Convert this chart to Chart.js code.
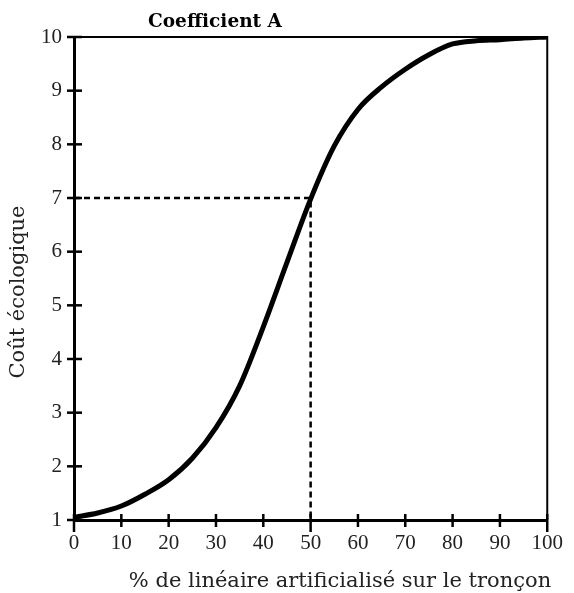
<!DOCTYPE html>
<html>
<head>
<meta charset="utf-8">
<script src="https://cdn.jsdelivr.net/npm/chart.js@4/dist/chart.umd.min.js"></script>
<style>
  body { margin: 0; background: #fff; }
  #wrap { width: 574px; height: 593px; }
</style>
</head>
<body>
<div id="wrap"><canvas id="coefChart" width="574" height="593"></canvas></div>
<script>
// valeurs
const pctLineaire = [0, 5, 10, 15, 20, 25, 30, 35, 40, 45, 50, 55, 60, 65, 70, 75, 80, 85, 90, 95, 100];
const coutEco = [1.05, 1.13, 1.26, 1.48, 1.75, 2.15, 2.72, 3.5, 4.6, 5.8, 6.98, 7.97, 8.65, 9.07, 9.4, 9.67, 9.87, 9.93, 9.95, 9.98, 10];
const repereX = [0, 50, 50];
const repereY = [7, 7, 1];
const xTicks = [0, 10, 20, 30, 40, 50, 60, 70, 80, 90, 100];
const yTicks = [1, 2, 3, 4, 5, 6, 7, 8, 9, 10];

const police = '"Liberation Serif", "DejaVu Serif", serif';
const policeTitre = '"DejaVu Serif", serif';

// cadre, graduations croisées et titres
const decor = {
    id: 'decor',
    afterDraw(chart) {
        const ctx = chart.ctx;
        const a = chart.chartArea;
        const sx = chart.scales.x, sy = chart.scales.y;
        ctx.save();
        ctx.strokeStyle = '#000';
        ctx.lineWidth = 2;
        ctx.beginPath();
        ctx.moveTo(a.left, a.top);
        ctx.lineTo(a.right, a.top);
        ctx.lineTo(a.right, a.bottom);
        ctx.stroke();

        ctx.lineWidth = 2.5;
        xTicks.forEach(function(v) {
            const px = sx.getPixelForValue(v);
            const bas = (v % 50 === 0) ? 12 : 7;
            ctx.beginPath();
            ctx.moveTo(px, a.bottom - 6);
            ctx.lineTo(px, a.bottom + bas);
            ctx.stroke();
        });
        yTicks.forEach(function(v) {
            const py = sy.getPixelForValue(v);
            ctx.beginPath();
            ctx.moveTo(a.left - 7, py);
            ctx.lineTo(a.left + 8, py);
            ctx.stroke();
        });

        ctx.fillStyle = '#000';
        ctx.textAlign = 'center';
        ctx.textBaseline = 'alphabetic';
        ctx.font = 'bold 18.5px ' + policeTitre;
        ctx.fillText('Coefficient A', 215, 27);

        ctx.fillStyle = '#222';
        ctx.font = '21px ' + policeTitre;
        ctx.fillText('% de linéaire artificialisé sur le tronçon', 340, 587);

        ctx.translate(24, 292);
        ctx.rotate(-Math.PI / 2);
        ctx.fillText('Coût écologique', 0, 0);
        ctx.restore();
    }
};

const ctx = document.getElementById('coefChart').getContext('2d');
const chart = new Chart(ctx, {
    type: 'line',
    data: {
        datasets: [{
            label: 'Coût',
            data: pctLineaire.map(function(x, i) { return { x: x, y: coutEco[i] }; }),
            borderColor: '#000',
            borderWidth: 5,
            pointRadius: 0,
            fill: false,
            cubicInterpolationMode: 'monotone'
        }, {
            label: 'Repère',
            data: repereX.map(function(x, i) { return { x: x, y: repereY[i] }; }),
            borderColor: '#000',
            borderWidth: 2.5,
            borderDash: [6, 4],
            pointRadius: 0,
            fill: false,
            tension: 0
        }]
    },
    options: {
        responsive: false,
        animation: false,
        layout: { padding: { left: 0, top: 37, right: 25, bottom: 0 } },
        plugins: {
            legend: { display: false },
            title: { display: false },
            tooltip: { enabled: false }
        },
        scales: {
            x: {
                type: 'linear',
                min: 0,
                max: 100,
                afterFit: function(s) { s.height = 73; },
                afterBuildTicks: function(s) { s.ticks = xTicks.map(function(v) { return { value: v }; }); },
                grid: { display: false, drawTicks: false },
                border: { display: true, color: '#000', width: 3 },
                ticks: { padding: 11, color: '#222', font: { family: police, size: 21 } }
            },
            y: {
                min: 1,
                max: 10,
                afterFit: function(s) { s.width = 74; },
                afterBuildTicks: function(s) { s.ticks = yTicks.map(function(v) { return { value: v }; }); },
                grid: { display: false, drawTicks: false },
                border: { display: true, color: '#000', width: 3 },
                ticks: { padding: 12, color: '#222', font: { family: police, size: 21 } }
            }
        }
    },
    plugins: [decor]
});
</script>
</body>
</html>
